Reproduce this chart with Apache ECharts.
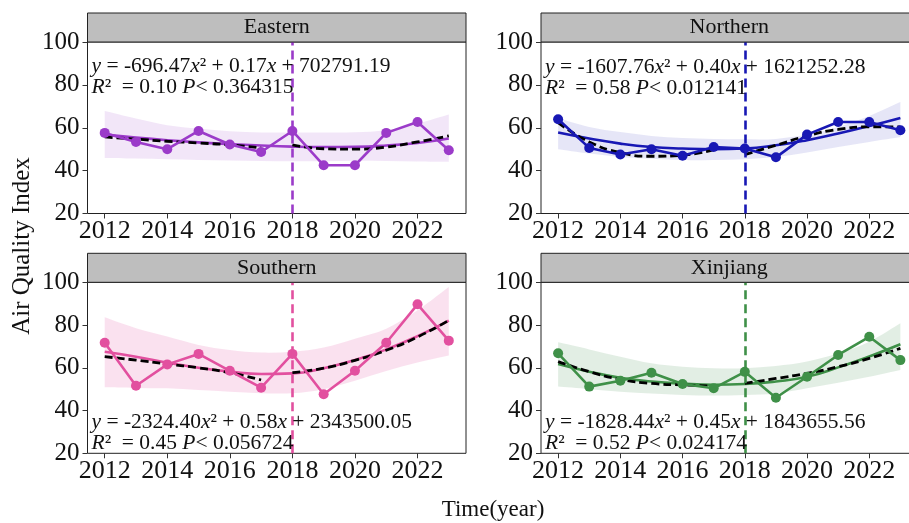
<!DOCTYPE html>
<html><head><meta charset="utf-8">
<script src="https://cdn.jsdelivr.net/npm/echarts@6/dist/echarts.min.js"></script>
<style>html,body{margin:0;padding:0;background:#fff}#c{width:909px;height:523px}</style>
</head><body><div id="c"></div>
<script>
// ---------- data ----------
const years = [2012,2013,2014,2015,2016,2017,2018,2019,2020,2021,2022,2023];
const leftYears = [2012,2013,2014,2015,2016,2017];
const rightYears = [2018,2019,2020,2021,2022,2023];
const xTicks = [2012,2014,2016,2018,2020,2022];
const breakYear = 2018;
const panelNames = ['Eastern','Northern','Southern','Xinjiang'];

const eastObs  = [57.6,53.4,50.0,58.5,52.2,48.7,58.5,42.5,42.5,57.6,62.7,49.5];
const eastFit  = [56.8,55.4,54.2,53.2,52.4,51.7,51.2,51.0,51.1,51.7,52.9,55.0];
const eastSegL = [55.7,54.7,53.7,52.9,52.0,50.6];
const eastSegR = [52.0,50.2,50.0,51.0,53.4,56.2];
const eastHi   = [67.8,64.3,61.2,59.6,58.4,57.8,57.8,57.8,57.9,58.8,62.0,66.2];
const eastLo   = [45.9,45.6,45.3,45.0,44.7,44.5,44.4,44.4,44.6,44.5,44.3,44.1];

const northObs  = [64.0,50.6,47.5,50.0,46.9,51.0,50.3,46.2,56.8,62.7,62.7,58.8];
const northFit  = [57.8,55.0,52.6,51.0,50.3,50.0,50.3,51.8,54.2,57.3,60.8,64.6];
const northSegL = [62.4,53.4,48.4,46.7,47.2,49.8];
const northSegR = [47.5,51.8,56.2,59.2,60.4,60.4];
const northHi   = [64.6,60.4,58.0,56.2,55.2,54.8,54.6,54.8,56.8,60.4,65.5,72.0];
const northLo   = [50.0,48.0,46.4,45.5,44.9,45.0,45.3,46.3,48.4,51.0,53.4,55.7];

const southObs  = [71.7,51.6,61.6,66.5,58.6,50.7,66.5,47.6,58.6,71.7,89.7,72.7];
const southFit  = [67.5,65.2,62.4,60.0,58.2,57.1,57.4,59.8,63.6,68.6,74.8,82.1];
const southSegL = [65.2,63.6,61.8,60.0,57.7,54.3];
const southSegR = [57.7,59.8,63.5,68.2,74.4,82.2];
const southHi   = [83.6,78.5,74.6,70.7,68.3,67.1,67.5,69.5,73.6,78.3,86.9,97.8];
const southLo   = [50.9,50.6,50.4,49.6,48.8,48.1,48.1,50.0,54.0,58.5,62.5,65.8];

const xinObs  = [66.8,51.2,53.9,57.7,52.4,50.4,58.1,46.0,55.8,66.0,74.5,63.6];
const xinFit  = [61.8,58.2,55.3,53.6,52.6,52.1,52.4,53.6,55.8,60.2,65.3,71.0];
const xinSegL = [62.9,58.2,54.6,52.7,52.0,51.5];
const xinSegR = [52.7,55.0,57.4,60.5,64.4,69.1];
const xinHi   = [71.9,68.6,65.2,62.1,60.5,59.8,59.8,60.8,62.9,66.8,72.2,80.8];
const xinLo   = [51.2,50.0,48.8,48.0,47.3,47.0,47.3,48.0,50.4,53.0,55.8,59.0];

const eqLine1 = [
  '{i|y} = -696.47{i|x}² + 0.17{i|x} + 702791.19',
  '{i|y} = -1607.76{i|x}² + 0.40{i|x} + 1621252.28',
  '{i|y} = -2324.40{i|x}² + 0.58{i|x} + 2343500.05',
  '{i|y} = -1828.44{i|x}² + 0.45{i|x} + 1843655.56'
];
const eqLine2 = [
  '{i|R}²  = 0.10 {i|P}< 0.364315',
  '{i|R}²  = 0.58 {i|P}< 0.012141',
  '{i|R}²  = 0.45 {i|P}< 0.056724',
  '{i|R}²  = 0.52 {i|P}< 0.024174'
];
const lineColors = ['#9B3BC9','#1818B4','#E2509F','#3F9048'];
const bandColors = ['rgba(155,59,201,0.13)','rgba(24,24,180,0.11)','rgba(226,80,159,0.17)','rgba(63,144,72,0.15)'];

// ---------- layout ----------
const FONT = '"Liberation Serif","Times New Roman",serif';
const grids = [
  {left:87.5, top:42, width:378.5, height:171.5},
  {left:541, top:42, width:376.5, height:171.5},
  {left:87.5, top:282.3, width:378.5, height:171},
  {left:541, top:282.3, width:376.5, height:171}
];
const eqTop = [56.5, 57.5, 412.5, 412.5];

const panels = [
  {obs:eastObs, fit:eastFit, segL:eastSegL, segR:eastSegR, hi:eastHi, lo:eastLo},
  {obs:northObs, fit:northFit, segL:northSegL, segR:northSegR, hi:northHi, lo:northLo},
  {obs:southObs, fit:southFit, segL:southSegL, segR:southSegR, hi:southHi, lo:southLo},
  {obs:xinObs, fit:xinFit, segL:xinSegL, segR:xinSegR, hi:xinHi, lo:xinLo}
];

const pair = (xs, vs) => xs.map((x,k) => [x, vs[k]]);

// Catmull-Rom -> cubic bezier path through screen points
function curvePath(pts, start) {
  let d = (start ? 'M' : 'L') + pts[0][0] + ' ' + pts[0][1];
  for (let k = 0; k < pts.length - 1; k++) {
    const p0 = pts[k-1] || pts[k], p1 = pts[k], p2 = pts[k+1], p3 = pts[k+2] || pts[k+1];
    const c1 = [p1[0] + (p2[0]-p0[0])/6, p1[1] + (p2[1]-p0[1])/6];
    const c2 = [p2[0] - (p3[0]-p1[0])/6, p2[1] - (p3[1]-p1[1])/6];
    d += 'C' + c1[0] + ' ' + c1[1] + ' ' + c2[0] + ' ' + c2[1] + ' ' + p2[0] + ' ' + p2[1];
  }
  return d;
}

const xAxes = [], yAxes = [], series = [], graphics = [];
grids.forEach((g, i) => {
  xAxes.push({
    type:'value', gridIndex:i, min:2011.45, max:2023.55,
    axisLine:{show:false},
    axisTick:{show:true, customValues:xTicks, length:5, lineStyle:{color:'#333', width:1}},
    axisLabel:{customValues:xTicks, formatter:v => String(v), fontSize:26, fontFamily:FONT, color:'#111', margin:5},
    splitLine:{show:false}
  });
  yAxes.push({
    type:'value', gridIndex:i, min:20, max:100, interval:20,
    axisLine:{show:false},
    axisTick:{show:true, length:5, lineStyle:{color:'#333', width:1}},
    axisLabel:{fontSize:25, fontFamily:FONT, color:'#111', margin:8},
    splitLine:{show:false}
  });
  const p = panels[i];
  // confidence ribbon
  series.push({
    type:'custom', xAxisIndex:i, yAxisIndex:i, silent:true, z:1,
    data:years.map((x,k) => [x, p.lo[k], p.hi[k]]),
    encode:{x:0, y:[1,2]},
    renderItem:(params, api) => {
      if (params.dataIndex !== 0) return null;
      const up = years.map((x,k) => api.coord([x, p.hi[k]]));
      const dn = years.map((x,k) => api.coord([x, p.lo[k]])).reverse();
      const d = curvePath(up, true) + curvePath(dn, false) + 'Z';
      return {type:'path', shape:{pathData:d}, style:{fill:bandColors[i], stroke:null}};
    }
  });
  series.push({
    type:'line', xAxisIndex:i, yAxisIndex:i, data:pair(years, p.fit),
    symbol:'none', smooth:0.5, lineStyle:{color:lineColors[i], width:2.6}, z:2
  });
  [pair(leftYears, p.segL), pair(rightYears, p.segR)].forEach(d => series.push({
    type:'line', xAxisIndex:i, yAxisIndex:i, data:d,
    symbol:'none', smooth:0.5, lineStyle:{color:'#000', width:2.8, type:[8,4]}, z:3
  }));
  series.push({
    type:'line', xAxisIndex:i, yAxisIndex:i, data:pair(years, p.obs),
    symbol:'circle', symbolSize:10, itemStyle:{color:lineColors[i]},
    lineStyle:{color:lineColors[i], width:2.6}, z:4,
    markLine:{
      silent:true, symbol:'none', label:{show:false}, z:5,
      lineStyle:{color:lineColors[i], width:2.6, type:[9,5]},
      data:[{xAxis:breakYear}]
    }
  });
  // strip
  graphics.push({
    type:'rect', shape:{x:g.left, y:g.top-29, width:g.width, height:29},
    style:{fill:'#BEBEBE', stroke:'#222', lineWidth:1}, z:10
  });
  graphics.push({
    type:'text', x:g.left + g.width/2, y:g.top-14.5,
    style:{text:panelNames[i], font:'22px ' + FONT, fill:'#111', textAlign:'center', textVerticalAlign:'middle'}, z:11
  });
  // equation
  const rich = {i:{fontStyle:'italic', fontSize:21.5, fontFamily:FONT, fill:'#111', lineHeight:20.5}};
  graphics.push({
    type:'text', x:g.left + 4, y:eqTop[i],
    style:{text:eqLine1[i] + '\n' + eqLine2[i], fontSize:21.5, fontFamily:FONT, fill:'#111', lineHeight:20.5, rich:rich, textAlign:'left', textVerticalAlign:'top'}, z:6
  });
});

graphics.push({
  type:'text', x:22, y:246, rotation:Math.PI/2,
  style:{text:'Air Quality Index', font:'25px ' + FONT, fill:'#111', textAlign:'center', textVerticalAlign:'middle'}
});
graphics.push({
  type:'text', x:493, y:510,
  style:{text:'Time(year)', font:'23px ' + FONT, fill:'#111', textAlign:'center', textVerticalAlign:'middle'}
});

const chart = echarts.init(document.getElementById('c'));
chart.setOption({
  animation:false,
  backgroundColor:'#fff',
  grid:grids.map(g => Object.assign({show:true, borderColor:'#222', borderWidth:1, backgroundColor:'#fff',
    containLabel:false, outerBoundsMode:'none'}, g)),
  xAxis:xAxes, yAxis:yAxes, series:series, graphic:graphics
});
</script></body></html>
